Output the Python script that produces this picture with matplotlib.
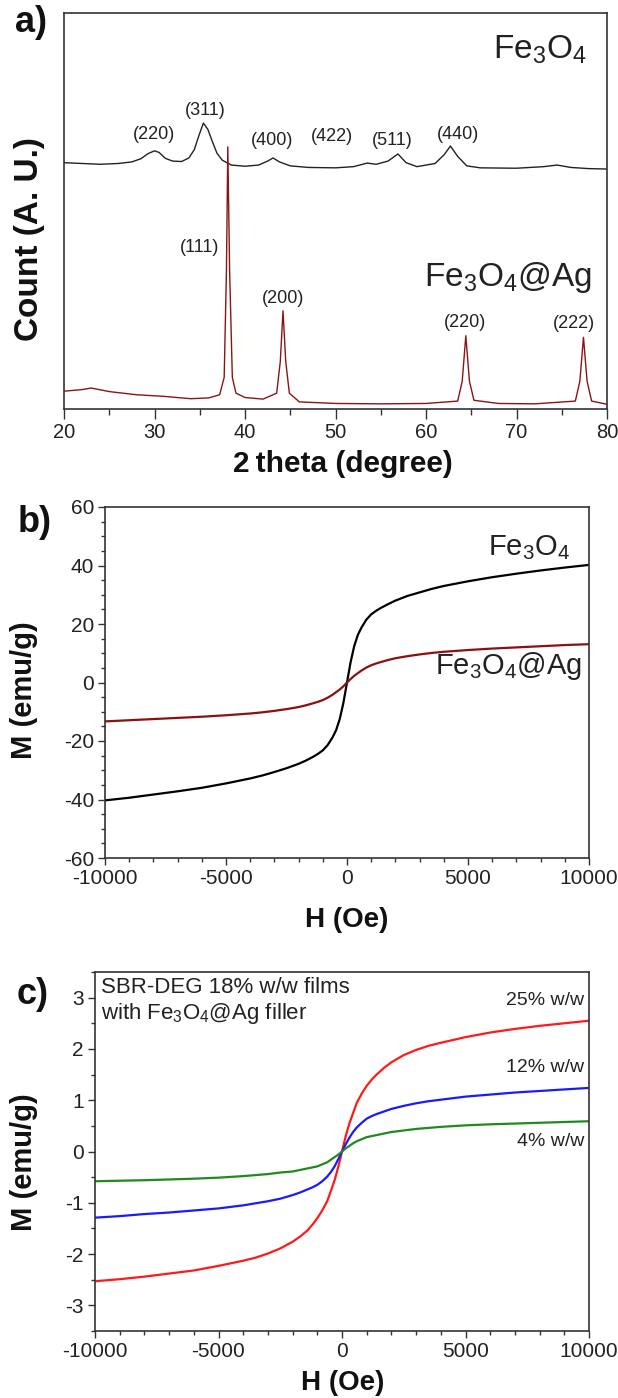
import numpy as np
import matplotlib
matplotlib.use("Agg")
import matplotlib.pyplot as plt
from matplotlib.ticker import MultipleLocator

plt.rcParams['font.family'] = ['Liberation Sans', 'DejaVu Sans']
plt.rcParams['mathtext.fontset'] = 'custom'
plt.rcParams['mathtext.rm'] = 'Liberation Sans'
plt.rcParams['axes.unicode_minus'] = False

# ---- a) XRD patterns (arbitrary units, read off the picture) ----
tt_fe = [20, 22, 24, 26, 27.5, 28.5, 29.3, 30.0, 30.5, 31.2, 32, 33, 33.8, 34.4, 34.9, 35.4,
         35.9, 36.4, 36.9, 37.5, 38.5, 40, 41.5, 42.5, 43.1, 43.8, 45, 47, 50, 52, 53.5, 54.5,
         55.8, 56.9, 57.8, 59, 61, 62, 62.7, 63.5, 64.5, 66, 70, 73, 74.5, 76, 78, 80]
cnt_fe = [62.2, 62.0, 61.8, 62.0, 62.4, 63.2, 64.5, 65.2, 64.8, 63.3, 62.6, 62.5, 63.4, 65.5,
          69.0, 72.2, 70.6, 67.5, 64.6, 62.8, 61.6, 61.3, 61.6, 62.6, 63.4, 62.4, 61.4, 61.0,
          60.9, 61.2, 62.1, 61.8, 62.6, 64.4, 62.2, 61.2, 62.0, 64.2, 66.4, 63.8, 61.4, 60.9,
          60.8, 61.2, 61.6, 61.0, 60.7, 60.6]

tt_ag = [20, 22, 23, 25, 28, 31, 34, 36, 37.2, 37.7, 37.95, 38.1, 38.3, 38.6, 39.0, 40, 42,
         43.5, 43.9, 44.2, 44.5, 44.9, 46, 50, 55, 60, 63.5, 64.0, 64.4, 64.8, 65.3, 68, 72,
         76.5, 77.0, 77.4, 77.8, 78.3, 80]
cnt_ag = [4.5, 4.9, 5.3, 4.4, 3.6, 3.2, 2.6, 2.8, 3.6, 8.0, 35.0, 66.2, 35.0, 8.0, 4.0, 2.9,
          2.5, 4.0, 12.0, 24.8, 12.0, 4.0, 1.8, 1.4, 1.3, 1.4, 2.0, 7.0, 18.5, 7.0, 2.2, 1.4,
          1.3, 2.0, 7.0, 18.1, 7.0, 2.0, 1.2]

fe_peaks = ['(220)', '(311)', '(400)', '(422)', '(511)', '(440)']
fe_peak_x = [29.9, 35.6, 43.0, 49.6, 56.3, 63.5]
fe_peak_y = [69.2, 75.5, 67.9, 68.8, 67.9, 69.2]
ag_peaks = ['(111)', '(200)', '(220)', '(222)']
ag_peak_x = [35.0, 44.2, 64.3, 76.4]
ag_peak_y = [40.9, 27.8, 21.9, 21.5]

# ---- b) M-H loops of the powders ----
H = [-10000, -9000, -8000, -7000, -6000, -5000, -4000, -3500, -3000, -2500, -2000, -1700,
     -1400, -1200, -1000, -800, -600, -450, -300, -150, 0, 150, 300, 450, 600, 800, 1000,
     1200, 1400, 1700, 2000, 2500, 3000, 3500, 4000, 5000, 6000, 7000, 8000, 9000, 10000]
M_fe = [-40.3, -39.4, -38.3, -37.2, -36.0, -34.5, -32.8, -31.8, -30.6, -29.3, -27.8, -26.7,
        -25.4, -24.4, -23.2, -21.4, -18.8, -16.3, -12.5, -7.0, 0.0, 7.0, 12.5, 16.3, 18.8,
        21.5, 23.3, 24.5, 25.5, 26.8, 28.0, 29.6, 30.8, 32.0, 33.0, 34.6, 36.0, 37.2, 38.3,
        39.3, 40.2]
M_feag = [-13.3, -12.9, -12.5, -12.1, -11.7, -11.2, -10.6, -10.2, -9.7, -9.1, -8.4, -7.8,
          -7.1, -6.6, -6.0, -5.2, -4.2, -3.3, -2.4, -1.3, 0.0, 1.2, 2.3, 3.2, 4.1, 5.1, 5.9,
          6.5, 7.0, 7.7, 8.3, 9.0, 9.6, 10.1, 10.5, 11.1, 11.6, 12.0, 12.4, 12.8, 13.1]

# ---- c) M-H loops of the SBR-DEG films ----
M_25 = [-2.53, -2.49, -2.44, -2.38, -2.32, -2.23, -2.13, -2.07, -1.99, -1.89, -1.76, -1.66,
        -1.54, -1.43, -1.30, -1.15, -0.97, -0.77, -0.56, -0.30, 0.0, 0.30, 0.55, 0.75, 0.95,
        1.13, 1.28, 1.40, 1.50, 1.63, 1.74, 1.88, 1.98, 2.06, 2.12, 2.23, 2.32, 2.39, 2.45,
        2.50, 2.55]
M_12 = [-1.29, -1.26, -1.22, -1.19, -1.15, -1.11, -1.05, -1.01, -0.97, -0.92, -0.85, -0.80,
        -0.74, -0.70, -0.65, -0.58, -0.49, -0.40, -0.29, -0.15, 0.0, 0.14, 0.27, 0.38, 0.47,
        0.56, 0.64, 0.69, 0.73, 0.78, 0.83, 0.89, 0.94, 0.98, 1.01, 1.07, 1.11, 1.15, 1.18,
        1.21, 1.24]
M_4 = [-0.58, -0.57, -0.56, -0.545, -0.53, -0.51, -0.48, -0.46, -0.44, -0.41, -0.39, -0.36,
       -0.33, -0.31, -0.29, -0.25, -0.21, -0.16, -0.11, -0.06, 0.0, 0.06, 0.11, 0.16, 0.20,
       0.24, 0.28, 0.30, 0.32, 0.35, 0.38, 0.41, 0.44, 0.46, 0.48, 0.51, 0.53, 0.545, 0.56,
       0.575, 0.59]
film_labels = ['25% w/w', '12% w/w', '4% w/w']
film_label_y = [2.95, 1.64, 0.19]

W, Hpx = 618, 1398
fig = plt.figure(figsize=(W / 100, Hpx / 100), dpi=100)


def axes_px(l, t, r, b):
    return fig.add_axes([l / W, 1 - b / Hpx, (r - l) / W, (b - t) / Hpx])


def style(ax, size):
    for s in ax.spines.values():
        s.set_linewidth(1.2)
        s.set_color('#333333')
    ax.tick_params(which='major', direction='out', length=5, width=1, labelsize=size,
                   colors='#333333', labelcolor='#222222', pad=3)
    ax.tick_params(which='minor', direction='out', length=3, width=1, colors='#333333')


fe = 'Fe$_{\\mathregular{3}}$O$_{\\mathregular{4}}$'

# panel a
ax1 = axes_px(64, 13, 607, 409)
ax1.plot(tt_fe, cnt_fe, color='#222222', lw=1.0)
ax1.plot(tt_ag, cnt_ag, color='#8b1414', lw=1.0)
ax1.set_xlim(20, 80)
ax1.set_ylim(0, 100)
ax1.set_yticks([])
ax1.xaxis.set_major_locator(MultipleLocator(10))
ax1.xaxis.set_minor_locator(MultipleLocator(5))
style(ax1, 14.5)
ax1.tick_params(which='major', length=7)
ax1.tick_params(which='minor', length=4)
for t, x, y in zip(fe_peaks, fe_peak_x, fe_peak_y):
    ax1.text(x, y, t, fontsize=13, ha='center', va='center', color='#222222')
for t, x, y in zip(ag_peaks, ag_peak_x, ag_peak_y):
    ax1.text(x, y, t, fontsize=13, ha='center', va='center', color='#222222')
ax1.text(77.8, 90.7, fe, fontsize=24, ha='right', va='center', color='#222222')
ax1.text(78.3, 33.3, fe + '@Ag', fontsize=24, ha='right', va='center', color='#222222')

# panel b
ax2 = axes_px(105, 507, 589, 858)
ax2.plot(H, M_fe, color='black', lw=1.6)
ax2.plot(H, M_feag, color='#8b1010', lw=1.6)
ax2.set_xlim(-10000, 10000)
ax2.set_ylim(-60, 60)
ax2.xaxis.set_major_locator(MultipleLocator(5000))
ax2.xaxis.set_minor_locator(MultipleLocator(1000))
ax2.yaxis.set_major_locator(MultipleLocator(20))
ax2.yaxis.set_minor_locator(MultipleLocator(5))
style(ax2, 15)
ax2.text(9200, 46.2, fe, fontsize=21, ha='right', va='center', color='#222222')
ax2.text(9700, 5.5, fe + '@Ag', fontsize=21, ha='right', va='center', color='#222222')

# panel c
ax3 = axes_px(95, 972, 589, 1331)
ax3.plot(H, M_25, color='#ff1a1a', lw=1.6)
ax3.plot(H, M_12, color='#1a1aff', lw=1.6)
ax3.plot(H, M_4, color='#1f8a1f', lw=1.6)
ax3.set_xlim(-10000, 10000)
ax3.set_ylim(-3.5, 3.5)
ax3.xaxis.set_major_locator(MultipleLocator(5000))
ax3.xaxis.set_minor_locator(MultipleLocator(1000))
ax3.yaxis.set_major_locator(MultipleLocator(1))
ax3.yaxis.set_minor_locator(MultipleLocator(0.5))
style(ax3, 15)
for t, y in zip(film_labels, film_label_y):
    ax3.text(9800, y, t, fontsize=14, ha='right', va='center', color='#222222')
ax3.text(0.012, 0.985, 'SBR-DEG 18% w/w films\nwith ' + fe + '@Ag filler',
         transform=ax3.transAxes, fontsize=16, ha='left', va='top', color='#222222',
         linespacing=1.15)


def ftext(x, y, s, **kw):
    fig.text(x / W, 1 - y / Hpx, s, ha='center', va='center', color='#111111', **kw)


ftext(31, 22, 'a)', fontsize=26, fontweight='bold')
ftext(35, 522, 'b)', fontsize=26, fontweight='bold')
ftext(33, 995, 'c)', fontsize=26, fontweight='bold')
ftext(30, 239, 'Count (A. U.)', fontsize=24, fontweight='bold', rotation=90)
ftext(343, 464, '2\u2009theta (degree)', fontsize=21.5, fontweight='bold')
ftext(24, 690, 'M (emu/g)', fontsize=21, fontweight='bold', rotation=90)
ftext(347, 920, 'H (Oe)', fontsize=20, fontweight='bold')
ftext(24, 1162, 'M (emu/g)', fontsize=21, fontweight='bold', rotation=90)
ftext(343, 1383, 'H (Oe)', fontsize=20, fontweight='bold')

fig.savefig('out.png', dpi=100)
